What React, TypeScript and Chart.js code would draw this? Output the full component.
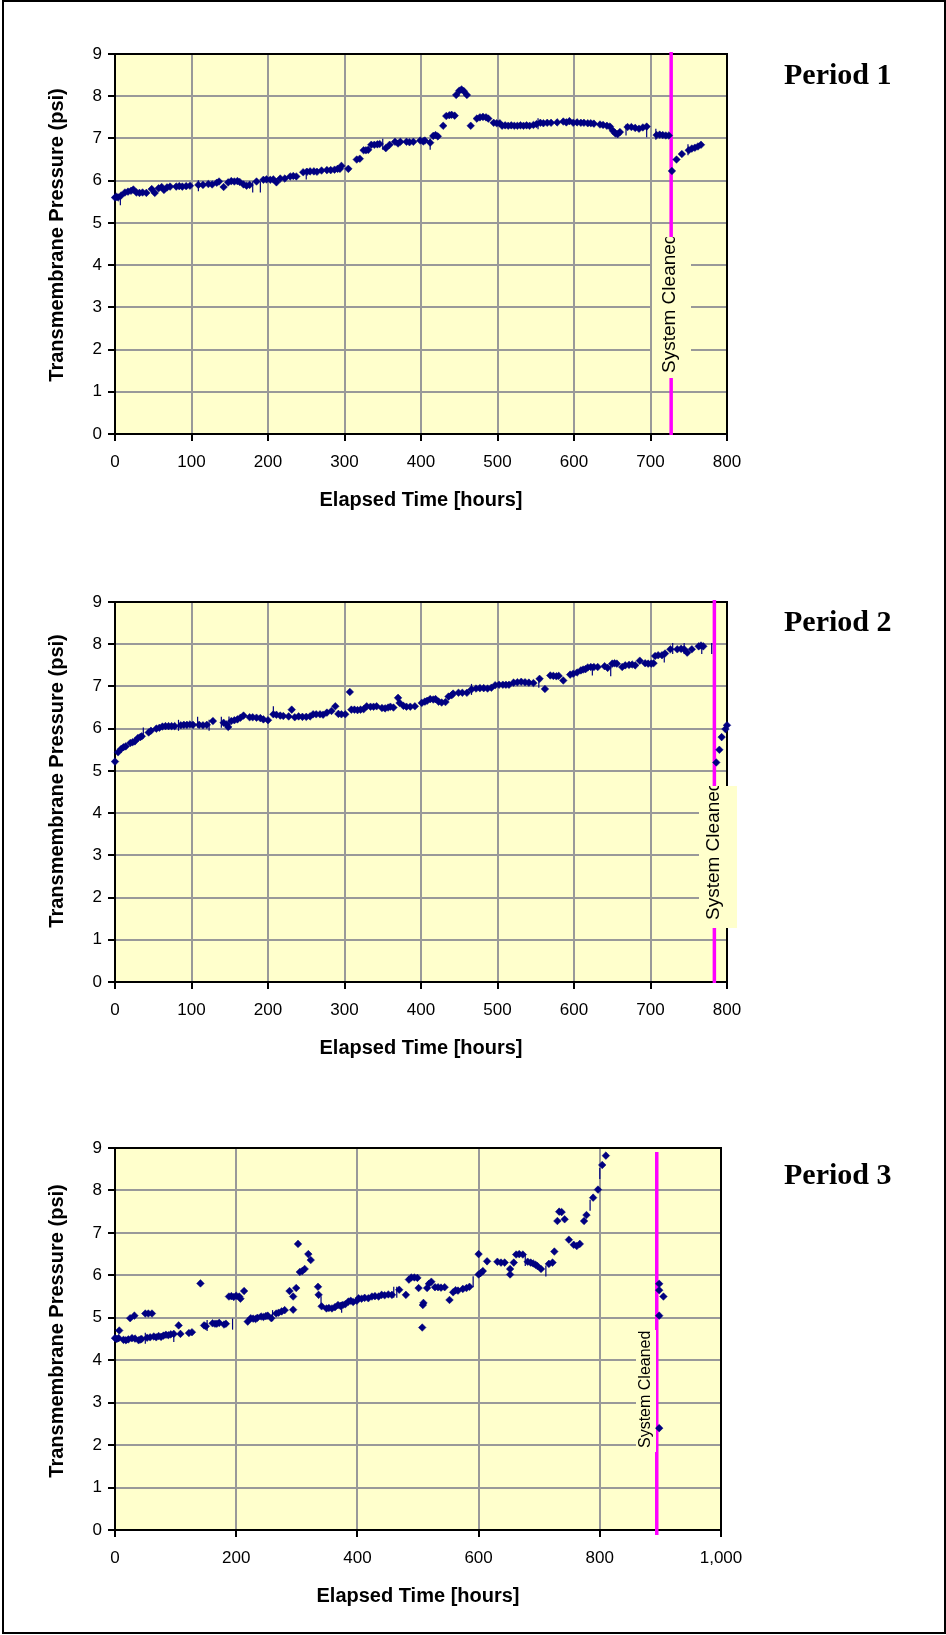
import React, { useEffect, useRef } from "react";
import { Chart, registerables } from "chart.js";

Chart.register(...registerables);

// ---------- DATA ----------
const p1Hours = [0, 2, 4, 8, 13, 17, 21, 24, 28, 32, 36, 41, 48, 52, 57, 61, 64, 68, 72, 80, 84, 88, 93, 98, 109, 115, 122, 127, 133, 136, 142, 148, 152, 156, 160, 163, 168, 172, 176, 185, 194, 198, 203, 207, 211, 216, 222, 229, 233, 237, 246, 251, 255, 260, 264, 270, 277, 282, 287, 291, 294, 296, 305, 316, 320, 325, 328, 331, 335, 339, 343, 346, 354, 359, 366, 370, 373, 381, 385, 390, 399, 403, 405, 412, 416, 419, 422, 429, 433, 437, 440, 444, 446, 450, 453, 456, 460, 465, 473, 477, 481, 485, 488, 495, 499, 503, 506, 510, 514, 518, 522, 526, 530, 534, 538, 542, 547, 551, 556, 560, 565, 570, 578, 586, 590, 594, 599, 604, 609, 613, 618, 622, 626, 634, 638, 643, 647, 651, 654, 657, 660, 670, 675, 680, 685, 690, 695, 708, 712, 716, 720, 724, 728, 734, 741, 750, 754, 758, 762, 766];
const p1Tmp = [5.60, 5.62, 5.60, 5.65, 5.72, 5.74, 5.76, 5.79, 5.72, 5.71, 5.72, 5.71, 5.80, 5.71, 5.82, 5.85, 5.78, 5.84, 5.86, 5.86, 5.87, 5.86, 5.87, 5.88, 5.90, 5.90, 5.92, 5.91, 5.95, 5.98, 5.85, 5.96, 5.99, 5.98, 5.99, 5.97, 5.91, 5.88, 5.90, 5.98, 6.02, 6.03, 6.02, 6.03, 5.96, 6.05, 6.05, 6.10, 6.11, 6.10, 6.20, 6.21, 6.22, 6.22, 6.21, 6.24, 6.25, 6.25, 6.26, 6.28, 6.28, 6.35, 6.28, 6.50, 6.52, 6.72, 6.72, 6.73, 6.85, 6.85, 6.86, 6.87, 6.77, 6.85, 6.92, 6.88, 6.92, 6.92, 6.91, 6.92, 6.95, 6.93, 6.95, 6.90, 7.06, 7.08, 7.05, 7.30, 7.53, 7.55, 7.56, 7.54, 8.03, 8.13, 8.16, 8.12, 8.03, 7.30, 7.47, 7.50, 7.51, 7.50, 7.47, 7.37, 7.36, 7.36, 7.30, 7.31, 7.30, 7.31, 7.30, 7.30, 7.31, 7.30, 7.31, 7.30, 7.32, 7.34, 7.37, 7.36, 7.37, 7.37, 7.38, 7.40, 7.38, 7.41, 7.37, 7.38, 7.37, 7.37, 7.36, 7.36, 7.35, 7.33, 7.32, 7.30, 7.28, 7.18, 7.12, 7.10, 7.15, 7.27, 7.27, 7.25, 7.23, 7.26, 7.28, 7.08, 7.09, 7.08, 7.07, 7.07, 6.23, 6.50, 6.63, 6.72, 6.76, 6.78, 6.81, 6.85];
const p1DashHours = [7, 109, 180, 190, 250, 350, 412, 553, 668, 695, 707, 749];
const p1DashTmp = [5.55, 5.88, 5.85, 5.85, 6.16, 6.86, 6.86, 7.35, 7.20, 7.16, 7.10, 6.73];

const p2Hours = [0, 4, 8, 11, 14, 20, 23, 26, 30, 33, 35, 44, 47, 54, 58, 62, 66, 70, 74, 78, 86, 90, 94, 98, 102, 110, 115, 120, 128, 142, 146, 148, 152, 156, 160, 164, 168, 176, 180, 185, 190, 194, 200, 207, 211, 216, 220, 227, 231, 235, 240, 245, 250, 255, 259, 263, 268, 272, 277, 283, 288, 292, 296, 301, 307, 309, 313, 317, 321, 325, 329, 334, 338, 342, 349, 353, 357, 360, 364, 370, 372, 377, 381, 386, 392, 401, 405, 408, 412, 416, 419, 423, 427, 432, 436, 440, 442, 449, 454, 460, 466, 472, 477, 482, 487, 492, 497, 502, 507, 511, 515, 521, 526, 531, 536, 541, 547, 555, 562, 569, 573, 577, 580, 586, 595, 599, 604, 609, 612, 615, 618, 622, 626, 631, 640, 644, 650, 653, 656, 663, 667, 672, 676, 680, 686, 693, 697, 701, 704, 706, 710, 715, 719, 726, 735, 740, 744, 748, 754, 763, 766, 769, 786, 790, 793, 798, 800];
const p2Tmp = [5.22, 5.44, 5.52, 5.56, 5.58, 5.66, 5.68, 5.70, 5.78, 5.80, 5.82, 5.91, 5.95, 6.00, 6.02, 6.05, 6.06, 6.06, 6.06, 6.06, 6.08, 6.09, 6.09, 6.10, 6.09, 6.09, 6.08, 6.09, 6.18, 6.14, 6.10, 6.04, 6.18, 6.20, 6.22, 6.26, 6.31, 6.27, 6.27, 6.26, 6.25, 6.22, 6.20, 6.34, 6.33, 6.31, 6.30, 6.29, 6.45, 6.27, 6.29, 6.28, 6.28, 6.29, 6.34, 6.34, 6.34, 6.33, 6.38, 6.42, 6.53, 6.35, 6.34, 6.34, 6.87, 6.45, 6.45, 6.44, 6.45, 6.46, 6.53, 6.52, 6.52, 6.53, 6.49, 6.48, 6.50, 6.52, 6.50, 6.73, 6.61, 6.54, 6.52, 6.52, 6.53, 6.61, 6.64, 6.66, 6.70, 6.69, 6.70, 6.64, 6.62, 6.63, 6.76, 6.79, 6.83, 6.85, 6.85, 6.85, 6.93, 6.95, 6.96, 6.96, 6.95, 6.97, 7.03, 7.04, 7.04, 7.04, 7.04, 7.09, 7.10, 7.11, 7.10, 7.09, 7.08, 7.18, 6.94, 7.26, 7.25, 7.24, 7.25, 7.14, 7.28, 7.30, 7.33, 7.38, 7.40, 7.41, 7.45, 7.46, 7.46, 7.46, 7.48, 7.44, 7.54, 7.55, 7.54, 7.46, 7.50, 7.51, 7.52, 7.50, 7.61, 7.55, 7.54, 7.54, 7.55, 7.72, 7.74, 7.74, 7.78, 7.88, 7.88, 7.89, 7.88, 7.80, 7.88, 7.95, 7.97, 7.95, 5.20, 5.50, 5.80, 5.99, 6.08];
const p2DashHours = [37, 83, 108, 123, 139, 149, 207, 466, 554, 624, 648, 718, 729, 744, 767, 780];
const p2DashTmp = [5.90, 6.08, 6.15, 6.08, 6.15, 6.16, 6.40, 6.93, 7.10, 7.39, 7.37, 7.70, 7.90, 7.90, 7.90, 7.90];

const p3Hours = [0, 3, 6, 7, 14, 18, 22, 25, 28, 32, 33, 39, 42, 44, 50, 53, 55, 58, 61, 64, 68, 72, 76, 80, 84, 88, 92, 97, 105, 108, 122, 127, 141, 147, 150, 161, 165, 168, 172, 180, 183, 188, 192, 196, 200, 205, 207, 213, 219, 224, 228, 232, 235, 241, 245, 249, 252, 258, 266, 270, 275, 280, 288, 294, 294, 299, 302, 305, 309, 313, 319, 323, 335, 336, 341, 349, 353, 358, 363, 368, 372, 376, 380, 385, 389, 393, 399, 402, 407, 412, 418, 424, 429, 435, 440, 445, 451, 457, 469, 480, 485, 489, 494, 499, 501, 507, 508, 509, 515, 518, 522, 528, 533, 538, 544, 552, 558, 562, 566, 574, 580, 585, 600, 603, 607, 600, 614, 631, 637, 643, 652, 652, 658, 662, 667, 673, 681, 686, 690, 694, 697, 703, 716, 722, 725, 730, 733, 737, 742, 749, 757, 762, 767, 774, 778, 789, 797, 804, 810, 898, 898, 905, 898, 898];
const p3Tmp = [4.52, 4.50, 4.52, 4.70, 4.48, 4.47, 4.49, 4.99, 4.52, 5.05, 4.51, 4.47, 4.49, 4.50, 5.10, 4.53, 5.10, 4.54, 5.10, 4.56, 4.54, 4.57, 4.55, 4.58, 4.60, 4.59, 4.61, 4.62, 4.82, 4.62, 4.64, 4.66, 5.81, 4.82, 4.80, 4.87, 4.86, 4.86, 4.88, 4.84, 4.86, 5.50, 5.51, 5.49, 5.52, 5.50, 5.45, 5.63, 4.91, 4.99, 4.98, 4.97, 5.00, 5.03, 5.02, 5.04, 5.05, 4.99, 5.10, 5.12, 5.15, 5.18, 5.63, 5.50, 5.19, 5.70, 6.74, 6.08, 6.10, 6.15, 6.50, 6.36, 5.73, 5.54, 5.27, 5.22, 5.23, 5.22, 5.25, 5.30, 5.28, 5.30, 5.32, 5.38, 5.40, 5.37, 5.40, 5.46, 5.45, 5.47, 5.46, 5.50, 5.51, 5.50, 5.54, 5.53, 5.55, 5.54, 5.66, 5.54, 5.90, 5.95, 5.95, 5.94, 5.70, 4.77, 5.30, 5.35, 5.70, 5.80, 5.85, 5.72, 5.72, 5.71, 5.72, 5.42, 5.60, 5.65, 5.64, 5.68, 5.70, 5.73, 6.02, 6.05, 6.10, 6.50, 6.33, 6.32, 6.30, 6.30, 6.02, 6.15, 6.30, 6.49, 6.50, 6.49, 6.32, 6.30, 6.28, 6.25, 6.22, 6.15, 6.27, 6.30, 6.56, 7.28, 7.50, 7.49, 7.32, 6.84, 6.72, 6.69, 6.74, 7.28, 7.42, 7.83, 8.02, 8.60, 8.82, 5.80, 5.65, 5.50, 5.05, 2.40];
const p3DashHours = [50, 97, 152, 194, 260, 340, 374, 460, 465, 591, 677, 711, 784, 800];
const p3DashTmp = [4.52, 4.56, 4.82, 4.85, 5.05, 5.38, 5.25, 5.60, 5.60, 5.85, 6.35, 6.10, 7.65, 8.40];

const cleanHours = [727, 783.5, 894];
const xMaxes = [800, 800, 1000];
const xSteps = [100, 100, 200];
const periodLabels = ["Period 1", "Period 2", "Period 3"];
const xTitle = "Elapsed Time [hours]";
const yTitle = "Transmembrane Pressure (psi)";
const cleanLabel = "System Cleaned";

// ---------- LAYOUT (page coordinates) ----------
const SANS = "'Liberation Sans', Arial, sans-serif";
const SERIF = "'Liberation Serif', 'Times New Roman', serif";

const layouts = [
  { top: 0, height: 540, areaTop: 54, areaBottom: 434, areaRight: 727, xTitleY: 500, yTitleY: 235, periodBase: 84,
    box: { x1: 652, x2: 691, y1: 237, y2: 378 }, textX: 670, textStartY: 373, textSize: 19, lineTop: 52, lineBottom: 435 },
  { top: 560, height: 540, areaTop: 602, areaBottom: 982, areaRight: 727, xTitleY: 1048, yTitleY: 781, periodBase: 631,
    box: { x1: 699, x2: 737, y1: 786, y2: 928 }, textX: 713.5, textStartY: 920, textSize: 19, lineTop: 600, lineBottom: 983 },
  { top: 1100, height: 535, areaTop: 1148, areaBottom: 1530, areaRight: 721, xTitleY: 1596, yTitleY: 1331, periodBase: 1184,
    box: { x1: 636, x2: 656, y1: 1330, y2: 1452 }, textX: 646, textStartY: 1448, textSize: 16, lineTop: 1152, lineBottom: 1535 },
];

function PeriodChart({ idx, hours, tmp, dashHours, dashTmp }: { idx: number; hours: number[]; tmp: number[]; dashHours: number[]; dashTmp: number[] }) {
  const ref = useRef<HTMLCanvasElement>(null);
  const L = layouts[idx];

  useEffect(() => {
    const top = L.top;
    const decor = {
      id: "decor" + idx,
      beforeDraw(chart: any) {
        const { ctx, chartArea: a } = chart;
        ctx.save();
        ctx.fillStyle = "#FFFFCC";
        ctx.fillRect(a.left, a.top, a.right - a.left, a.bottom - a.top);
        ctx.restore();
      },
      beforeDatasetsDraw(chart: any) {
        const { ctx, chartArea: a } = chart;
        ctx.save();
        ctx.strokeStyle = "#000";
        ctx.lineWidth = 2;
        ctx.strokeRect(a.left, a.top, a.right - a.left, a.bottom - a.top);
        // cleaning line
        const x = chart.scales.x.getPixelForValue(cleanHours[idx]);
        ctx.strokeStyle = "#FF00FF";
        ctx.lineWidth = 3.5;
        ctx.beginPath();
        ctx.moveTo(x, L.lineTop - top);
        ctx.lineTo(x, L.lineBottom - top);
        ctx.stroke();
        // label box
        const b = L.box;
        ctx.fillStyle = "#FFFFCC";
        ctx.fillRect(b.x1, b.y1 - top, b.x2 - b.x1, b.y2 - b.y1);
        ctx.beginPath();
        ctx.rect(b.x1, b.y1 - top, b.x2 - b.x1, b.y2 - b.y1);
        ctx.clip();
        ctx.translate(L.textX, L.textStartY - top);
        ctx.rotate(-Math.PI / 2);
        ctx.fillStyle = "#000";
        ctx.font = `${L.textSize}px ${SANS}`;
        ctx.textAlign = "left";
        ctx.textBaseline = "middle";
        ctx.fillText(cleanLabel, 0, 0);
        ctx.restore();
      },
      afterDraw(chart: any) {
        const { ctx, chartArea: a } = chart;
        ctx.save();
        ctx.fillStyle = "#000";
        ctx.font = `bold 20px ${SANS}`;
        ctx.textAlign = "center";
        ctx.textBaseline = "middle";
        ctx.fillText(xTitle, (a.left + a.right) / 2, L.xTitleY - top);
        ctx.save();
        ctx.translate(57.7, L.yTitleY - top);
        ctx.rotate(-Math.PI / 2);
        ctx.fillText(yTitle, 0, 0);
        ctx.restore();
        ctx.font = `bold 30px ${SERIF}`;
        ctx.textAlign = "left";
        ctx.textBaseline = "alphabetic";
        ctx.fillText(periodLabels[idx], 784, L.periodBase - top);
        ctx.restore();
      },
    };

    const tickFont = { family: SANS, size: 17 };
    const chart = new Chart(ref.current as HTMLCanvasElement, {
      type: "scatter",
      data: {
        datasets: [
          {
            data: dashHours.map((h, i) => ({ x: h, y: dashTmp[i] })),
            pointStyle: "line",
            pointRotation: 90,
            pointRadius: 5.5,
            pointHoverRadius: 5.5,
            backgroundColor: "#000080",
            borderColor: "#000080",
            borderWidth: 1.2,
            clip: false as any,
          },
          {
            data: hours.map((h, i) => ({ x: h, y: tmp[i] })),
            pointStyle: "rectRot",
            pointRadius: 3.8,
            pointHoverRadius: 3.8,
            backgroundColor: "#000080",
            borderColor: "#000080",
            borderWidth: 0.5,
            clip: false as any,
          },
        ],
      },
      options: {
        responsive: false,
        animation: false,
        devicePixelRatio: 1,
        events: [],
        layout: { padding: { left: 0, top: L.areaTop - top, right: 946 - L.areaRight, bottom: 0 } },
        plugins: { legend: { display: false }, tooltip: { enabled: false } },
        scales: {
          x: {
            type: "linear",
            min: 0,
            max: xMaxes[idx],
            ticks: {
              stepSize: xSteps[idx],
              font: tickFont,
              color: "#000",
              padding: 11,
              maxRotation: 0,
              autoSkip: false,
              callback: (v: any) => Number(v).toLocaleString("en-US"),
            },
            grid: { color: "#999999", lineWidth: 2, tickLength: 7, tickColor: "#000", tickWidth: 2 },
            border: { color: "#000", width: 2 },
            afterFit: (s: any) => {
              s.height = L.height - (L.areaBottom - top);
            },
          },
          y: {
            min: 0,
            max: 9,
            ticks: { stepSize: 1, font: tickFont, color: "#000", padding: 6 },
            grid: { color: "#999999", lineWidth: 2, tickLength: 7, tickColor: "#000", tickWidth: 2 },
            border: { color: "#000", width: 2 },
            afterFit: (s: any) => {
              s.width = 115;
            },
          },
        },
      } as any,
      plugins: [decor],
    });
    return () => chart.destroy();
  }, []);

  return (
    <canvas
      ref={ref}
      width={946}
      height={L.height}
      style={{ position: "absolute", left: 0, top: L.top, width: 946, height: L.height }}
    />
  );
}

export default function App() {
  return (
    <div style={{ position: "absolute", left: 0, top: 0, width: 946, height: 1635, background: "#fff" }}>
      <PeriodChart idx={0} hours={p1Hours} tmp={p1Tmp} dashHours={p1DashHours} dashTmp={p1DashTmp} />
      <PeriodChart idx={1} hours={p2Hours} tmp={p2Tmp} dashHours={p2DashHours} dashTmp={p2DashTmp} />
      <PeriodChart idx={2} hours={p3Hours} tmp={p3Tmp} dashHours={p3DashHours} dashTmp={p3DashTmp} />
      <div
        style={{
          position: "absolute",
          left: 2,
          top: 0,
          width: 944,
          height: 1634,
          border: "2px solid #000",
          boxSizing: "border-box",
          pointerEvents: "none",
        }}
      />
    </div>
  );
}
